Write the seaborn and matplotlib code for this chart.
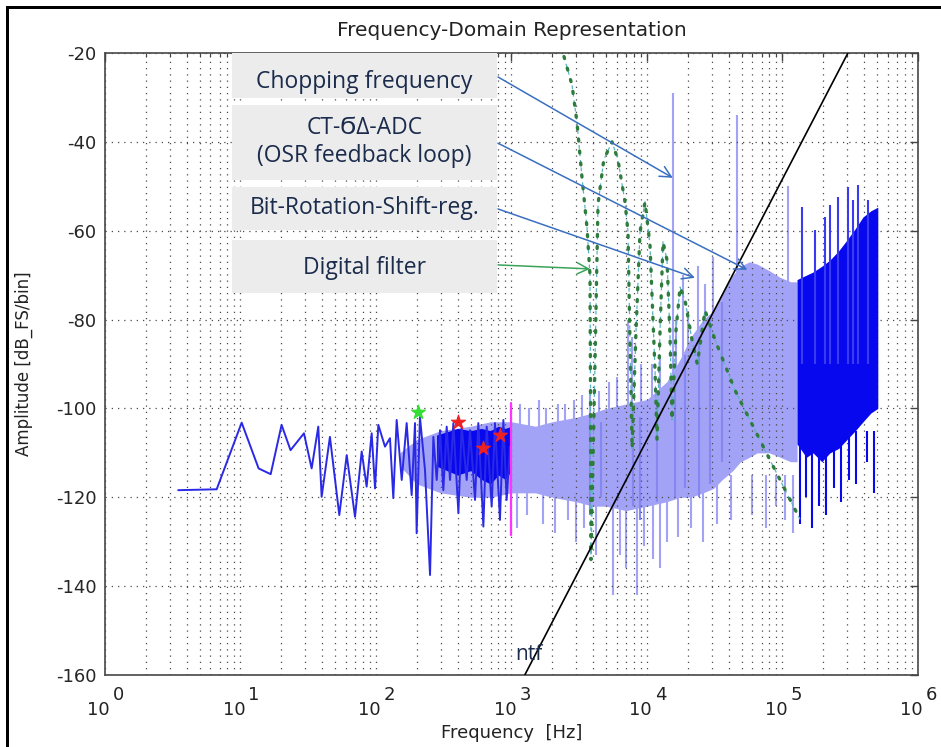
import numpy as np
import pandas as pd
import matplotlib
matplotlib.use("Agg")
import matplotlib.pyplot as plt
import matplotlib.transforms as mtransforms
from matplotlib.patches import Rectangle
import seaborn as sns

# ---------------- data ----------------
# low-frequency spectrum trace (dark blue)
low_freq = [3.47, 6.67, 10.2, 13.6, 16.7, 20.1, 23.4, 29.4, 33.5, 37.5, 39.7, 45.7,
            53.6, 60.8, 70.0, 78.4, 85.3, 92.9, 98.4, 104, 116.5, 126.8, 134.2, 142.1,
            154.8, 168.4, 183.3, 194, 199.5, 211, 230, 250.5, 265, 280.5, 296.8, 314,
            332.5, 351.7, 372.4, 405.6, 428.9, 467, 494, 538, 569, 620, 656, 714, 755,
            822, 871, 921, 975]
low_db = [-118.4, -118.2, -103.2, -113.5, -114.8, -103.7, -109.4, -105.6, -113.5, -104.1,
          -119.9, -106.4, -124.0, -110.5, -124.4, -109.7, -117.6, -105.6, -118.0, -103.7,
          -108.6, -106.7, -120.2, -102.6, -116.1, -103.3, -119.5, -103.3, -128.1, -101.9,
          -113.9, -137.5, -106.4, -116.1, -104.9, -118.4, -104.1, -116.1, -103.3, -123.6,
          -104.1, -116.1, -104.9, -120.6, -103.3, -126.6, -104.1, -122.1, -103.3, -125.1,
          -102.6, -120.6, -108.6]

# dense dark band 280 Hz .. 1 kHz
dband_lo_freq = [280, 400, 500, 600, 700, 800, 900, 1000]
dband_lo_up = [-106, -104.5, -105, -104.5, -105, -104, -104.5, -104]
dband_lo_dn = [-113, -115, -114, -116, -117, -115, -116, -114]

# light-blue spectrum band (upper / lower envelope)
lb_freq = [150, 200, 300, 500, 700, 1000, 1500, 2000, 3000, 4000, 5000, 7000, 10000,
           14000, 17500, 21000, 26000, 31000, 36000, 43000, 49000, 57000, 65000, 80000,
           96000, 115000, 128000]
lb_upper = [-110, -107, -105, -104, -103, -103, -104, -103, -102, -101, -100, -99, -98,
            -94, -89, -84, -80, -78, -74, -70, -68, -67, -67.5, -69, -70.5, -71.5, -71.5]
lb_lower = [-113, -117, -119, -120, -120, -119, -119, -120, -121, -122, -122, -123, -122,
            -121, -120, -120, -119, -118, -116, -114, -112, -111, -110, -110, -111, -112, -112]

# light-blue spurs (upwards)
ls_freq = [1150, 1350, 1600, 1800, 2200, 2500, 2900, 3300, 3800, 4400, 5200, 6000, 7200,
           7700, 9000, 10800, 12500, 15560, 16500, 18400, 20000, 23800, 27000, 30700,
           46100, 110000]
ls_top = [-99, -100, -98, -100, -99, -99, -98, -97, -96, -96, -94, -93, -80, -84, -90,
          -90, -88, -29, -80, -70, -78, -68, -72, -66, -34, -50]
ls_bottom = [-112] * 24 + [-110, -105]

# light-blue spurs (downwards)
ld_freq = [1100, 1300, 1700, 2100, 2600, 3000, 3400, 4200, 5600, 6300, 7000, 8400, 9500,
           11000, 12500, 14000, 17000, 21000, 26000, 33000, 42000, 60000, 75000, 90000,
           105000, 120000]
ld_bottom = [-127, -124, -126, -128, -125, -130, -127, -133, -142, -133, -136, -142, -131,
             -134, -136, -130, -129, -127, -130, -126, -125, -124, -127, -122, -125, -128]

# darker streaks inside the light band
dk_freq = [3800, 4600, 7900, 8900, 11800, 16000, 19000, 24000, 29000, 36000]
dk_top = [-101, -103, -100, -102, -98, -95, -88, -84, -80, -76]
dk_bottom = [-124, -120, -122, -125, -121, -120, -118, -120, -117, -112]

# dark-blue band above ~128 kHz
hb_freq = [128000, 150000, 168000, 195000, 224000, 260000, 299000, 345000, 393000,
           450000, 505000]
hb_upper = [-71, -70, -69.3, -68, -66.6, -64.5, -62.1, -59.5, -56.9, -55.5, -54.7]
hb_lower = [-108, -111, -110, -112, -110, -109, -107, -105, -103, -101, -100]

# dark spurs in high band (up / down)
hs_freq = [140000, 173000, 205000, 223000, 255000, 303000, 330000, 359000, 427000]
hs_top = [-54.6, -59.8, -57, -54.2, -52.4, -50.2, -53, -49.7, -53]
hd_freq = [135000, 150000, 165000, 185000, 210000, 240000, 270000, 310000, 350000,
           420000, 470000]
hd_bottom = [-126, -120, -127, -122, -124, -118, -121, -116, -117, -112, -119]

# digital filter response (dotted)
filt_freq = [2440, 2795, 3040, 3315, 3610, 3795, 3830, 3860, 4100, 4350, 4800, 5520,
             6100, 6880, 7240, 7490, 7760, 8300, 8880, 9670, 10520, 11460, 11860, 12480,
             13130, 14050, 14790, 15300, 16370, 17530, 19070, 21490, 23500, 26800, 31800,
             44600, 74300, 134900]
filt_db = [-20.8, -27.2, -35.5, -48.1, -59.4, -70.0, -96.5, -134.0, -95.0, -54.0, -44.0,
           -40.0, -44.0, -53.5, -60.3, -85.0, -109.0, -82.4, -60.3, -53.5, -63.2, -91.4,
           -107.0, -82.4, -62.5, -66.6, -83.9, -102.6, -82.4, -72.7, -75.6, -84.6, -90.0,
           -77.9, -84.6, -95.9, -109.4, -125.0]

# noise transfer function line
ntf_freq = [1253, 304000]
ntf_db = [-160, -20]

# harmonic markers
green_f, green_db = [204], [-100.8]
red_f, red_db = [403, 617, 822], [-103.1, -108.9, -106.0]

# magenta marker line at 1 kHz
mag_f, mag_db = [1000, 1000], [-98.8, -128.5]

yticks = [-160, -140, -120, -100, -80, -60, -40, -20]
decades = [0, 1, 2, 3, 4, 5, 6]

labels_box = ["Chopping frequency", "CT-\u03ec\u0394-ADC\n(OSR feedback loop)",
              "Bit-Rotation-Shift-reg.", "Digital filter"]

# ---------------- styling ----------------
sns.set_style("white")
plt.rcParams['font.family'] = ['DejaVu Sans']

LIGHT = '#a2a2f6'
LIGHT2 = '#8686f0'
DARK = '#0808ee'
LINE = '#2a2ae6'
NAVY = '#1a2b4c'
ARROW = '#3a6fc0'

fig = plt.figure(figsize=(9.41, 7.47), dpi=100)
ax = fig.add_axes([105/941, 1-675/747, 813/941, 622/747])
ax.set_xscale('log')

# light band
ax.fill_between(lb_freq, lb_lower, lb_upper, color=LIGHT, lw=0, zorder=1)
ax.vlines(ls_freq, ls_bottom, ls_top, color=LIGHT, lw=1.5, zorder=1)
ax.vlines(ld_freq, [-115]*len(ld_freq), ld_bottom, color=LIGHT, lw=1.5, zorder=1)
ax.vlines(dk_freq, dk_bottom, dk_top, color=LIGHT2, lw=1.5, zorder=1.5)

# dark high band
ax.fill_between(hb_freq, hb_lower, hb_upper, color=DARK, lw=0, zorder=3)
ax.vlines(hs_freq, [-90]*len(hs_freq), hs_top, color='#3a3af0', lw=1.5, zorder=3)
ax.vlines(hd_freq, [-105]*len(hd_freq), hd_bottom, color=DARK, lw=1.5, zorder=3)

# dark low band + trace
ax.fill_between(dband_lo_freq, dband_lo_dn, dband_lo_up, color=DARK, lw=0, zorder=3)
df_low = pd.DataFrame({'f': low_freq, 'db': low_db})
sns.lineplot(data=df_low, x='f', y='db', ax=ax, color=LINE, lw=1.4, sort=False,
             estimator=None, zorder=3.2)

# magenta
sns.lineplot(x=mag_f, y=mag_db, ax=ax, color='#ff33ff', lw=1.6, estimator=None,
             sort=False, zorder=3.3)

# digital filter
df_f = pd.DataFrame({'f': filt_freq, 'db': filt_db})
sns.lineplot(data=df_f, x='f', y='db', ax=ax, color='#5ab4c2', lw=0.9, ls=(0, (3, 3)),
             sort=False, estimator=None, zorder=4)
sns.lineplot(data=df_f, x='f', y='db', ax=ax, color='#2f7d3c', lw=2.4,
             ls=(0, (0.6, 3.0)), dash_capstyle='round', sort=False, estimator=None,
             zorder=4.1)

# ntf
sns.lineplot(x=ntf_freq, y=ntf_db, ax=ax, color='black', lw=1.2, estimator=None,
             sort=False, zorder=4.5)

# markers
sns.scatterplot(x=green_f, y=green_db, ax=ax, color='#33dd33', marker='*', s=110,
                edgecolor='#33dd33', zorder=5)
sns.scatterplot(x=red_f, y=red_db, ax=ax, color='#ee2222', marker='*', s=110,
                edgecolor='#ee2222', zorder=5)

ax.set_xlim(1, 1e6)
ax.set_ylim(-160, -20)

# grid
grid_kw = dict(color='#4a4a4a', linestyle=(0, (1, 4)), linewidth=0.9)
ax.set_axisbelow(False)
ax.grid(True, which='major', axis='both', **grid_kw)
ax.grid(True, which='minor', axis='x', **grid_kw)
ax.xaxis.set_minor_locator(matplotlib.ticker.LogLocator(base=10, subs=np.arange(2, 10)))
ax.set_xticks([10.0**d for d in decades])
ax.set_xticklabels([])
ax.xaxis.set_minor_formatter(matplotlib.ticker.NullFormatter())
ax.set_yticks(yticks)
ax.set_yticklabels([str(v) for v in yticks], fontsize=13)
ax.tick_params(which='both', direction='in', top=True, right=True, color='#444')
ax.tick_params(which='major', length=6, width=1)
ax.tick_params(which='minor', length=3, width=0.8)
ax.tick_params(axis='y', pad=6)
for s in ax.spines.values():
    s.set_color('#555555')
    s.set_linewidth(1.3)

# x tick labels as "10" with raised exponent
trans = mtransforms.blended_transform_factory(ax.transData, ax.transAxes)
for d in decades:
    t1 = mtransforms.offset_copy(trans, fig=fig, x=5, y=-40, units='dots')
    ax.text(10.0**d, 0, "10", transform=t1, ha='right', va='baseline', fontsize=13,
            color='#222', clip_on=False)
    t2 = mtransforms.offset_copy(trans, fig=fig, x=8, y=-25, units='dots')
    ax.text(10.0**d, 0, str(d), transform=t2, ha='left', va='baseline', fontsize=13,
            color='#222', clip_on=False)

ax.set_ylabel('Amplitude [dB_FS/bin]', fontsize=12, color='#222')
ax.yaxis.set_label_coords(-0.089, 0.5)
ax.set_xlabel('Frequency  [Hz]', fontsize=13, color='#222')
ax.xaxis.set_label_coords(0.5, -0.079)
ax.set_title('Frequency-Domain Representation', fontsize=14.5, color='#222', pad=12)

# annotation boxes
box_x0, box_x1 = 8.65, 782
boxes = [(-30.1, -20), (-48.6, -31.7), (-59.8, -50.2), (-74.0, -62.1)]
for (y0, y1) in boxes:
    ax.add_patch(Rectangle((box_x0, y0), box_x1 - box_x0, y1 - y0, facecolor='#ececec',
                           edgecolor='none', zorder=6))
tfont = dict(family=['Open Sans', 'DejaVu Sans'], fontsize=16.5, color=NAVY, zorder=7,
             ha='center', va='center')
ax.text(82, -26.5, labels_box[0], **tfont)
ax.text(82, -40.0, labels_box[1], linespacing=1.2, **tfont)
ax.text(82, -54.9, labels_box[2], **tfont)
ax.text(82, -68.4, labels_box[3], **tfont)

# arrows
arrows = [((795, -25.4), (15500, -48.1), ARROW),
          ((795, -40.3), (55000, -68.8), ARROW),
          ((795, -55.1), (22600, -70.6), ARROW),
          ((795, -67.7), (3800, -68.6), '#3aa35a')]
for (xy0, xy1, c) in arrows:
    ax.annotate("", xy=xy1, xytext=xy0,
                arrowprops=dict(arrowstyle='->', color=c, lw=1.1, mutation_scale=20,
                                shrinkA=0, shrinkB=0), zorder=8)

ax.text(1062, -156.6, "ntf", family=['Open Sans', 'DejaVu Sans'], fontsize=15,
        color=NAVY, ha='left', va='baseline', zorder=8)

# figure frame (left and top edges visible) as thin filled strips
fig.add_artist(Rectangle((6/941, 0), 2.5/941, 1 - 6/747, transform=fig.transFigure,
                         facecolor='black', edgecolor='none', zorder=10))
fig.add_artist(Rectangle((6/941, 1 - 8.5/747), 1, 2.5/747, transform=fig.transFigure,
                         facecolor='black', edgecolor='none', zorder=10))

fig.savefig('out.png', dpi=100)
